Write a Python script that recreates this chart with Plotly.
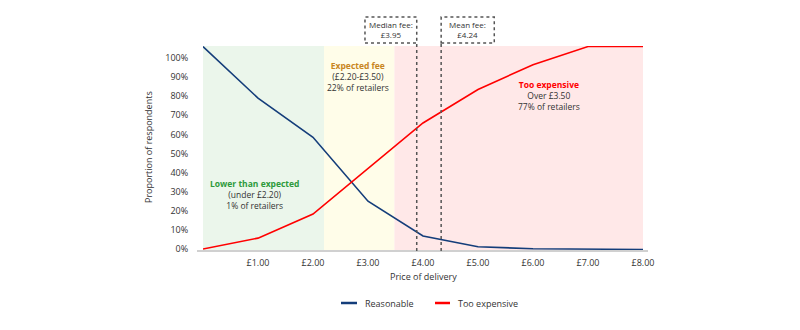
import plotly.graph_objects as go

price = [0, 1, 2, 3, 4, 5, 6, 7, 8]
reasonable = [106, 79, 58.5, 25, 6.8, 1.2, 0.1, 0, -0.3]
too_expensive = [0, 5.7, 18.3, 42, 66, 83.5, 96.5, 106, 106]
tick_vals = [1, 2, 3, 4, 5, 6, 7, 8]
tick_text = ["£1.00", "£2.00", "£3.00", "£4.00", "£5.00", "£6.00", "£7.00", "£8.00"]
y_ticks = [0, 10, 20, 30, 40, 50, 60, 70, 80, 90, 100]
y_text = [f"{v}%" for v in y_ticks]
zones = [(0, 2.2, "#ebf6eb"), (2.2, 3.48, "#fffde9"), (3.48, 8, "#ffe8e8")]
median_x, mean_x = 3.886, 4.33
series_names = ["Reasonable", "Too expensive"]
series_colors = ["#143d7a", "#ff0000"]

FONT = "Open Sans"
TXT = "#333333"
fig = go.Figure()
for name, ys, col in zip(series_names, [reasonable, too_expensive], series_colors):
    fig.add_trace(go.Scatter(x=price, y=ys, mode="lines", name=name,
                             line=dict(color=col, width=1.6), showlegend=False))

W = 440.0
H = 205.0
def px_x(p):
    return (p - 203) / W
def py(p):
    return (251 - p) / H

shapes = []
for x0, x1, c in zones:
    shapes.append(dict(type="rect", xref="x", yref="paper", x0=x0, x1=x1, y0=0, y1=1,
                       fillcolor=c, line=dict(width=0), layer="below"))
# axis baseline
shapes.append(dict(type="line", xref="paper", yref="paper", x0=px_x(197), x1=px_x(648), y0=0, y1=0,
                   line=dict(color="#d0d0d0", width=2)))
# dotted boxes + lines
dot = dict(color="#555555", width=1.5, dash="dot")
shapes.append(dict(type="rect", xref="x", yref="paper", x0=2.945, x1=median_x, y0=py(43), y1=py(17), line=dot))
shapes.append(dict(type="line", xref="x", yref="paper", x0=median_x, x1=median_x, y0=0, y1=py(43), line=dot))
shapes.append(dict(type="rect", xref="x", yref="paper", x0=mean_x, x1=5.296, y0=py(43), y1=py(17), line=dot))
shapes.append(dict(type="line", xref="x", yref="paper", x0=mean_x, x1=mean_x, y0=0, y1=py(43), line=dot))

ann = []
def txt(x, ypix, text, size=8.5, xref="x", color=TXT):
    ann.append(dict(x=x, y=py(ypix), xref=xref, yref="paper", text=text, showarrow=False,
                    font=dict(family=FONT, size=size, color=color), xanchor="center", yanchor="middle"))

txt(2.81, 76.5, "<b><span style='color:#c8861f'>Expected fee</span></b><br>(£2.20-£3.50)<br>22% of retailers")
txt(6.29, 95.5, "<b><span style='color:#ff0000'>Too expensive</span></b><br>Over £3.50<br>77% of retailers")
txt(0.93, 194.5, "<b><span style='color:#2e9a3c'>Lower than expected</span></b><br>(under £2.20)<br>1% of retailers")
txt(3.42, 30, "Median fee:<br>£3.95", size=8)
txt(4.81, 30, "Mean fee:<br>£4.24", size=8)
txt(4.0, 276, "Price of delivery", size=9)
ann.append(dict(x=px_x(148), y=py(147), xref="paper", yref="paper", text="Proportion of respondents",
                showarrow=False, textangle=-90, font=dict(family=FONT, size=9, color=TXT),
                xanchor="center", yanchor="middle"))

# custom legend
leg = [(341, 357, 363), (435, 450, 456)]
for (l0, l1, tx), name, col in zip(leg, series_names, series_colors):
    shapes.append(dict(type="line", xref="paper", yref="paper", x0=px_x(l0), x1=px_x(l1),
                       y0=py(303), y1=py(303), line=dict(color=col, width=2.5)))
    ann.append(dict(x=px_x(tx), y=py(303), xref="paper", yref="paper", text=name, showarrow=False,
                    font=dict(family=FONT, size=9, color=TXT), xanchor="left", yanchor="middle"))

fig.update_layout(
    width=800, height=330, margin=dict(l=203, r=157, t=46, b=79),
    paper_bgcolor="white", plot_bgcolor="white",
    font=dict(family=FONT, size=9, color=TXT),
    showlegend=False,
    shapes=shapes, annotations=ann,
    xaxis=dict(range=[0, 8], tickvals=tick_vals, ticktext=tick_text, showgrid=False,
               zeroline=False, showline=False, ticks="outside", ticklen=3, tickcolor="rgba(0,0,0,0)"),
    yaxis=dict(range=[-1.05, 106.3], tickvals=y_ticks, ticktext=y_text, showgrid=False,
               zeroline=False, showline=False, ticks="outside", ticklen=12, tickcolor="rgba(0,0,0,0)"),
)
fig.write_html("out.html")
